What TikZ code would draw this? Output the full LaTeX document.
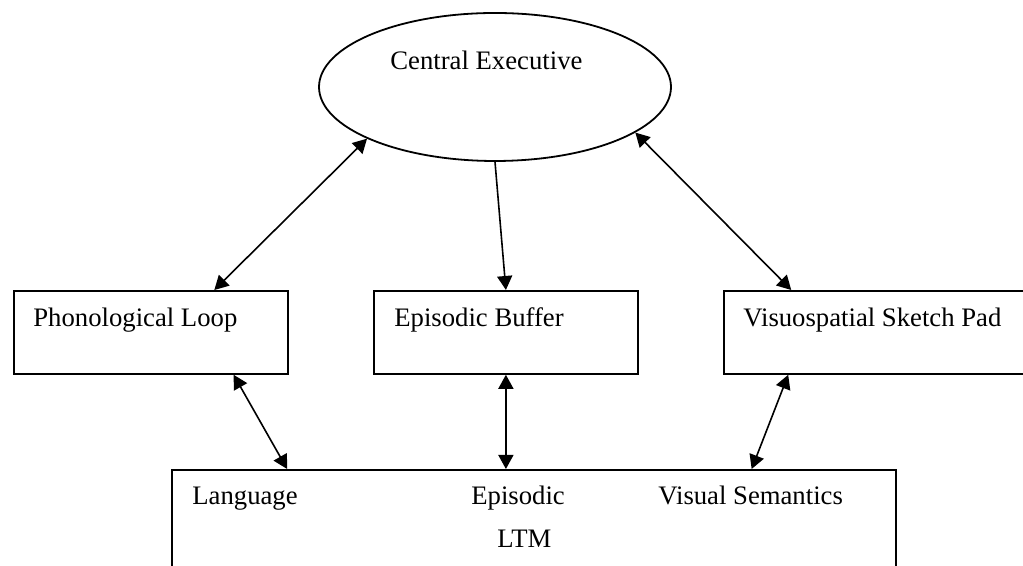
\documentclass[tikz,border=0pt]{standalone}
\usepackage{fontspec}
\setmainfont{Liberation Serif}
\usetikzlibrary{arrows.meta,positioning,calc,shapes.geometric}
\tikzset{wmbox/.style={draw,line width=.9pt,rectangle,inner sep=0pt,minimum height=41.5pt,anchor=north west},
  wmtext/.style={anchor=base west,inner sep=0pt,font=\fontsize{13.35pt}{16pt}\selectfont},
  link/.style={line width=.8pt,-{Triangle[length=7pt,width=7.5pt]}},
  twoway/.style={line width=.8pt,{Triangle[length=7pt,width=7.5pt]}-{Triangle[length=7pt,width=7.5pt]}}}

\begin{document}
\begin{tikzpicture}[x=.5pt,y=.5pt]
\useasboundingbox (0,0) rectangle (1023,566);
\clip (0,0) rectangle (1023,566);
% central executive
\node[ellipse,draw,line width=.9pt,inner sep=0pt,minimum width=176pt,minimum height=74pt] (ce) at (495,479) {};
\node[wmtext] (cetext) at ($(ce.center)+(-105,17)$) {Central Executive};
% slave systems
\node[wmbox,minimum width=137pt] (pl) at (13,276) {};
\node[wmbox,minimum width=132pt] (eb) at (373,276) {};
\node[wmbox,minimum width=150.75pt] (vs) at (723,276) {};
\node[wmtext] (pltext) at ($(pl.north west)+(20,-37)$) {Phonological Loop};
\node[wmtext] (ebtext) at ($(eb.north west)+(21,-37)$) {Episodic Buffer};
\node[wmtext] (vstext) at ($(vs.north west)+(20,-37)$) {Visuospatial Sketch Pad};
% long-term memory, runs off the bottom
\node[wmbox,minimum width=362pt,minimum height=80pt] (ltm) at (171,97) {};
\node[wmtext] (lang) at ($(ltm.north west)+(21,-36)$) {Language};
\node[wmtext] (epi) at ($(ltm.north west)+(300,-36)$) {Episodic};
\node[wmtext] (ltmtext) at ($(ltm.north west)+(326,-79)$) {LTM};
\node[wmtext] (vissem) at ($(ltm.north west)+(487,-36)$) {Visual Semantics};
% connections
\draw[twoway] (ce.202) -- ($(pl.north west)!.73!(pl.north east)$);
\draw[link] (ce.south) -- (eb.north);
\draw[twoway] (ce.-18) -- ($(vs.north west)!.225!(vs.north east)$);
\draw[twoway] ($(pl.south west)!.8!(pl.south east)$) -- ($(ltm.north west)!.16!(ltm.north east)$);
\draw[twoway] (eb.south) -- (eb.south |- ltm.north);
\draw[twoway] ($(vs.south west)!.215!(vs.south east)$) -- ($(ltm.north west)!.8!(ltm.north east)$);
\end{tikzpicture}
\end{document}
